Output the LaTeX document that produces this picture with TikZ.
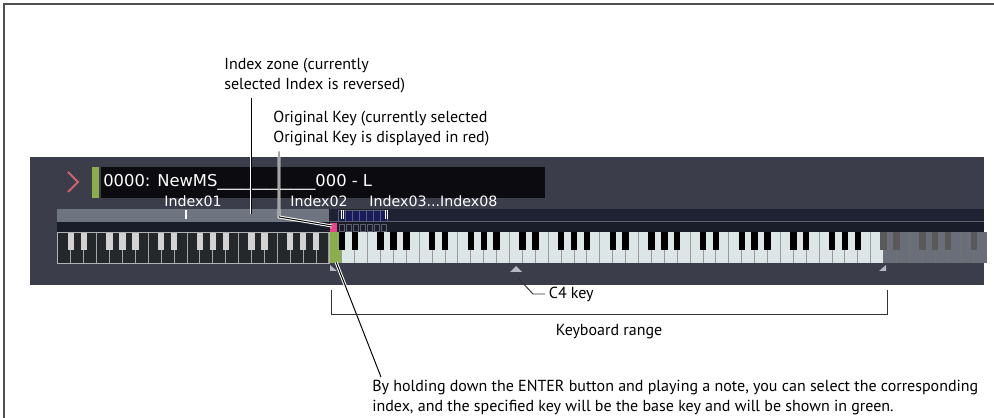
\documentclass[tikz,border=0pt]{standalone}
\usepackage{fontspec}
\setmainfont{PT Sans}
\newfontfamily\uifont{DejaVu Sans}
\usetikzlibrary{positioning, calc}

\definecolor{panelbg}{HTML}{3B3E4A}
\definecolor{namebg}{HTML}{0B0B10}
\definecolor{selgreen}{HTML}{8AAE4C}
\definecolor{selpink}{HTML}{E8468A}
\definecolor{chevron}{HTML}{D8606E}
\definecolor{zonegray}{HTML}{6E7580}
\definecolor{zonenavy}{HTML}{1E2233}
\definecolor{stripnavy}{HTML}{191C29}
\definecolor{boxedge}{HTML}{5A6070}
\definecolor{darkkey}{HTML}{24282A}
\definecolor{lightkey}{HTML}{DCE6E6}
\definecolor{outkey}{HTML}{6A6E78}
\definecolor{markgray}{HTML}{B4B8C0}
\definecolor{framegray}{HTML}{505050}

\begin{document}
\begin{tikzpicture}[
    x=0.02cm, y=-0.02cm,
    font=\fontsize{9.1}{11.2}\selectfont,
    % Styles des textes
    annot/.style={align=left, inner sep=0pt, anchor=north west},
    uitext/.style={text=white, inner sep=0pt, font=\uifont\fontsize{8.1}{9}\selectfont},
    % Styles des traits de repere
    leader/.style={draw=black, line width=0.55pt, preaction={draw=white, line width=1.7pt}},
    plainleader/.style={draw=black!80, line width=0.55pt},
    tick/.style={white, line width=0.8pt}
]
    \useasboundingbox (0,0) rectangle (994,418);
    \clip (0,0) rectangle (994,418);

    % --- CADRE ---
    \draw[framegray, line width=0.6pt] (4,430) -- (4,4) -- (1000,4);

    % --- ECRAN ---
    \fill[panelbg] (30,157) rectangle (984,285);
    \draw[chevron, line width=1.1pt] (68,172) -- (78,182) -- (68,192);
    \fill[selgreen] (92,167) rectangle (99,198);
    \fill[namebg] (101,167) rectangle (545,198);
    \node[uitext, font=\uifont\fontsize{9.3}{11}\selectfont, anchor=west] (name) at (103,182)
        {0000: NewMS\_\_\_\_\_\_\_\_\_\_\_\_000 - L};

    % Zone des index
    \fill[zonegray] (57,209) rectangle (329,222);
    \fill[zonenavy] (329,209) rectangle (984,222);
    \draw[boxedge, line width=0.4pt] (329,221.5) -- (984,221.5);
    \fill[stripnavy] (57,222) rectangle (984,232);
    \foreach \k in {0,...,6} {
        \draw[boxedge, fill=zonenavy!80!blue] (338+7*\k,210) rectangle ++(7,11);
        \draw[boxedge] (339+7*\k,224) rectangle ++(5,7);
    }
    \fill[selpink] (330,223) rectangle (337,232);
    \draw[tick] (186,210) -- (186,219);
    \draw[tick] (341.5,210) -- (341.5,219) (343.5,210) -- (343.5,219);
    \draw[tick] (385.5,210) -- (385.5,219) (387.5,210) -- (387.5,219);
    \node[uitext] (idx01) at (193,201) {Index01};
    \node[uitext] (idx02) at (319,201) {Index02};
    \node[uitext, anchor=west] (idx38) at (369,201) {Index03...Index08};

    % Clavier
    \foreach \i in {0,...,71} {
        \pgfmathtruncatemacro{\reg}{\i<21 ? 0 : (\i==21 ? 1 : (\i<64 ? 2 : 3))}
        \ifcase\reg \def\kc{darkkey}\or \def\kc{selgreen}\or \def\kc{lightkey}\or \def\kc{outkey}\fi
        \fill[\kc] (58+12.9*\i,232) rectangle ++(12.9,31);
    }
    \foreach \i in {1,...,71} {
        \pgfmathtruncatemacro{\nt}{mod(\i-1,7)}
        \pgfmathtruncatemacro{\reg}{\i<21 ? 0 : (\i<64 ? 2 : 3)}
        \ifcase\reg \def\dc{gray!70}\or\or \def\dc{gray!80}\or \def\dc{black!55}\fi
        \ifnum\nt=2 \def\ytop{232}\else\ifnum\nt=6 \def\ytop{232}\else\def\ytop{250}\fi\fi
        \draw[\dc, line width=0.5pt] (58+12.9*\i,\ytop) -- (58+12.9*\i,263);
    }
    \foreach \i in {0,...,70} {
        \pgfmathtruncatemacro{\nt}{mod(\i,7)}
        \pgfmathtruncatemacro{\reg}{\i<21 ? 0 : (\i<63 ? 1 : 2)}
        \ifcase\reg \def\bc{gray!35}\or \def\bc{black}\or \def\bc{black!65}\fi
        \ifnum\nt=2 \else\ifnum\nt=6 \else
            \fill[\bc] (58+12.9*\i+12.9-3.2,232) rectangle ++(6.4,18);
        \fi\fi
    }
    \draw[gray!60, line width=0.5pt] (57,232) rectangle (329,263.5);

    % Reperes sous le clavier
    \fill[markgray] (330,265) -- (330,271) -- (337,271) -- cycle;
    \fill[markgray] (516,266) -- (522,272) -- (510,272) -- cycle;
    \fill[markgray] (886,265) -- (886,271) -- (879,271) -- cycle;

    % --- POINTS D'ATTACHE ---
    \coordinate (zonetip) at (251,214);
    \coordinate (origbend) at (279,217);
    \coordinate (pinkkey) at (332,226);
    \coordinate (greenkey) at (336,262);
    \coordinate (noteend) at (381,377);
    \coordinate (c4mark) at (518,278);
    \coordinate (c4bend) at (533,294);
    \coordinate (rangeL) at (331,290);
    \coordinate (rangeR) at (887,290);

    % --- TEXTES ---
    \node[annot] (zonelbl) at (224,58) {Index zone (currently\\selected Index is reversed)};
    \node[annot] (origlbl) at (273,111) {Original Key (currently selected\\Original Key is displayed in red)};
    \node[annot, anchor=west, inner xsep=2pt] (c4lbl) at (545,294) {C4 key};
    \node (rangelbl) at (609,332) {Keyboard range};
    \node[annot] (notelbl) at (372,380) {By holding down the ENTER button and playing a note, you can select the corresponding\\index, and the specified key will be the base key and will be shown in green.};

    % --- TRAITS ---
    \draw[leader] ($(zonelbl.south -| zonetip)+(0,5)$) -- (zonetip);
    \draw[leader] ($(origlbl.south -| origbend)+(0,5)$) -- (origbend) -- (pinkkey);
    \draw[leader] (greenkey) -- (noteend);
    \draw[plainleader] (c4mark) -- (c4bend) -- (c4lbl.west);
    \draw[plainleader] (rangeL) -- ++(0,24) -| (rangeR);

\end{tikzpicture}
\end{document}
